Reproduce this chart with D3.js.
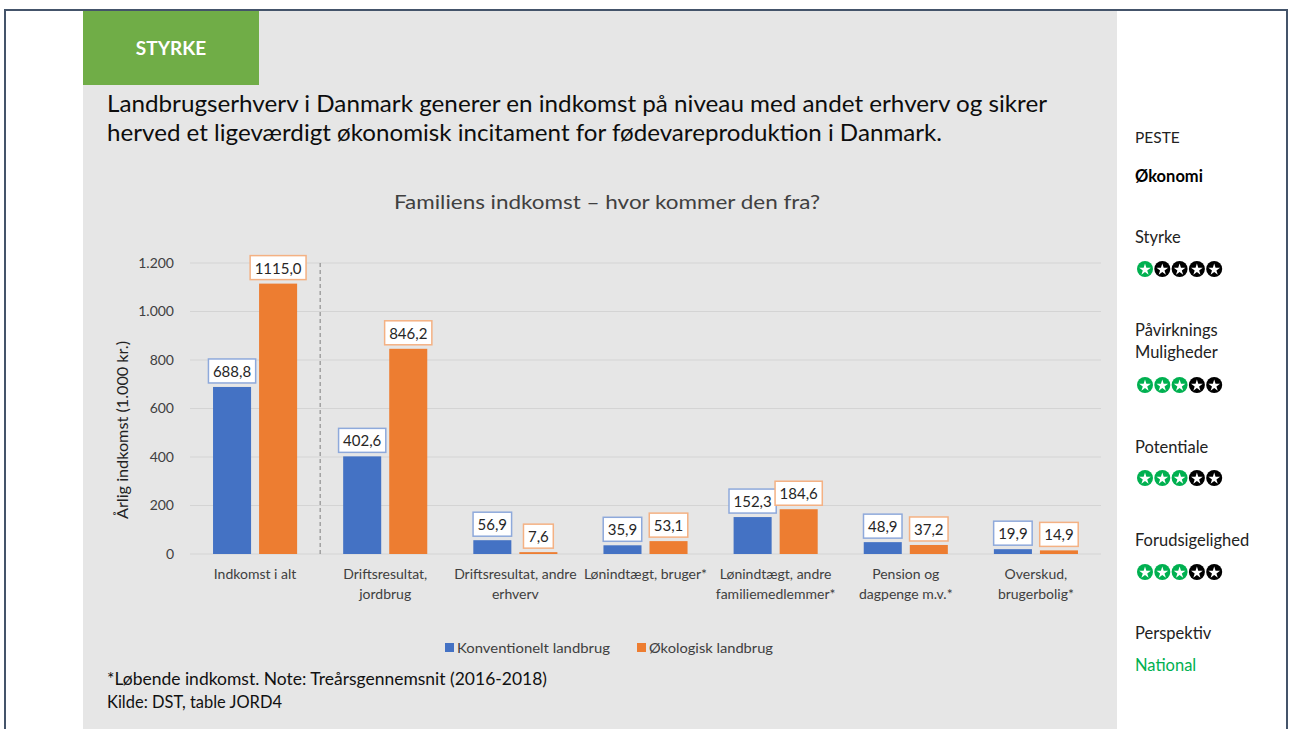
<!DOCTYPE html>
<html><head><meta charset="utf-8">
<script src="https://cdn.jsdelivr.net/npm/d3@7"></script>
<style>body{margin:0;background:#fff}svg{display:block;font-family:Lato,"Open Sans",sans-serif}</style>
</head><body><svg id="c" width="1290" height="729"></svg>
<script>
const categories = ["Indkomst i alt","Driftsresultat,\njordbrug","Driftsresultat, andre\nerhverv","Lønindtægt, bruger*","Lønindtægt, andre\nfamiliemedlemmer*","Pension og\ndagpenge m.v.*","Overskud,\nbrugerbolig*"];
const seriesNames = ["Konventionelt landbrug","Økologisk landbrug"];
const konventionelt = [688.8,402.6,56.9,35.9,152.3,48.9,19.9];
const okologisk = [1115.0,846.2,7.6,53.1,184.6,37.2,14.9];
const yTicks = [0,200,400,600,800,1000,1200];
const ratingLabels = [["Styrke"],["Påvirknings","Muligheder"],["Potentiale"],["Forudsigelighed"]];
const ratingValues = [1,3,3,3];

const svg = d3.select("#c");
const colors = ["#4472C4","#ED7D31"];
const borderColors = ["#8EA9DB","#F4B183"];
const dk = d3.formatLocale({decimal:",",thousands:".",grouping:[3],currency:["",""]});
const yFmt = dk.format(",.0f"), vFmt = v => d3.format(".1f")(v).replace(".",",");

// frame
svg.append("rect").attr("x",5).attr("y",10).attr("width",1282).attr("height",740).attr("fill","#fff").attr("stroke","#44546A").attr("stroke-width",2);
svg.append("rect").attr("x",83).attr("y",11).attr("width",1034).attr("height",720).attr("fill","#E6E6E6");
svg.append("rect").attr("x",83).attr("y",11).attr("width",176).attr("height",74).attr("fill","#70AD47");
svg.append("text").attr("x",171).attr("y",55).attr("text-anchor","middle").attr("fill","#fff").attr("font-size",19).attr("font-weight",700).text("STYRKE");

const title = ["Landbrugserhverv i Danmark generer en indkomst på niveau med andet erhverv og sikrer","herved et ligeværdigt økonomisk incitament for fødevareproduktion i Danmark."];
const tw=[940,835];
title.forEach((t,i)=>svg.append("text").attr("x",107).attr("y",112+i*29).attr("font-size",24).attr("fill","#0d0d0d")
  .attr("textLength",tw[i]).attr("lengthAdjust","spacingAndGlyphs").text(t));

svg.append("text").attr("x",607).attr("y",209).attr("text-anchor","middle").attr("font-size",19.5).attr("fill","#404040")
  .attr("textLength",426).attr("lengthAdjust","spacingAndGlyphs").text("Familiens indkomst – hvor kommer den fra?");

// scales
const x = d3.scaleBand().domain(categories).range([190,1101]).padding(0);
const xs = d3.scaleBand().domain([0,1]).range([0,x.bandwidth()]).paddingInner(0.174).paddingOuter(0.5);
const y = d3.scaleLinear().domain([0,1200]).range([554,263]);

// grid
const g = svg.append("g");
g.selectAll("line.grid").data(yTicks).join("line").attr("x1",190).attr("x2",1101)
  .attr("y1",d=>y(d)).attr("y2",d=>y(d)).attr("stroke","#D4D4D4").attr("stroke-width",1);
const yAxis = d3.axisLeft(y).tickValues(yTicks).tickFormat(yFmt).tickSize(0).tickPadding(0);
const ya = svg.append("g").attr("transform","translate(174,0)").call(yAxis);
ya.select(".domain").remove();
ya.selectAll("text").attr("font-size",14).attr("fill","#404040").attr("font-family","Lato,sans-serif");

// dashed separator
svg.append("line").attr("x1",x(categories[1])).attr("x2",x(categories[1])).attr("y1",y(1200)).attr("y2",y(0))
  .attr("stroke","#7F7F7F").attr("stroke-dasharray","4,3");

// y title
svg.append("text").attr("transform","translate(128,430) rotate(-90)").attr("text-anchor","middle").attr("font-size",16)
  .attr("fill","#222").attr("textLength",178).attr("lengthAdjust","spacingAndGlyphs").text("Årlig indkomst (1.000 kr.)");

// bars
const series=[konventionelt,okologisk];
series.forEach((vals,s)=>{
  const bg = svg.append("g");
  bg.selectAll("rect").data(vals).join("rect")
    .attr("x",(d,i)=>x(categories[i])+xs(s)).attr("width",xs.bandwidth())
    .attr("y",d=>y(d)).attr("height",d=>y(0)-y(d)).attr("fill",colors[s]);
  vals.forEach((v,i)=>{
    const cx = x(categories[i])+xs(s)+xs.bandwidth()/2;
    const lg = svg.append("g");
    const r = lg.append("rect");
    const t = lg.append("text").attr("x",cx).attr("y",y(v)-10).attr("text-anchor","middle").attr("font-size",15)
      .attr("fill","#262626").text(vFmt(v));
    const w = t.node().getComputedTextLength()+9;
    r.attr("x",cx-w/2).attr("y",y(v)-28).attr("width",w).attr("height",24).attr("fill","#fff")
      .attr("stroke",borderColors[s]).attr("stroke-width",1.5);
  });
});

// x labels
categories.forEach(c=>{
  const lines=c.split("\n");
  const t=svg.append("text").attr("text-anchor","middle").attr("font-size",14).attr("fill","#404040");
  lines.forEach((l,k)=>t.append("tspan").attr("x",x(c)+x.bandwidth()/2).attr("y",579+k*20).text(l));
});

// legend
const legX=[445,637], legW=[153,124];
seriesNames.forEach((n,s)=>{
  svg.append("rect").attr("x",legX[s]).attr("y",643).attr("width",9).attr("height",9).attr("fill",colors[s]);
  svg.append("text").attr("x",legX[s]+12).attr("y",653).attr("font-size",14).attr("fill","#404040")
    .attr("textLength",legW[s]).attr("lengthAdjust","spacingAndGlyphs").text(n);
});

// footnotes
svg.append("text").attr("x",107).attr("y",685).attr("font-size",16.5).attr("fill","#111").attr("textLength",440).attr("lengthAdjust","spacingAndGlyphs")
  .text("*Løbende indkomst. Note: Treårsgennemsnit (2016-2018)");
svg.append("text").attr("x",107).attr("y",708).attr("font-size",16.5).attr("fill","#111").attr("textLength",175).attr("lengthAdjust","spacingAndGlyphs")
  .text("Kilde: DST, table JORD4");

// right panel
const rp = svg.append("g").attr("font-size",16.5).attr("fill","#222");
rp.append("text").attr("x",1135).attr("y",143).attr("font-size",15.5).text("PESTE");
rp.append("text").attr("x",1135).attr("y",182).attr("font-weight",700).attr("fill","#000").text("Økonomi");
const labY=[[243],[336,358],[453],[546]], starY=[269,385,478,572];
ratingLabels.forEach((ls,i)=>{
  ls.forEach((l,k)=>rp.append("text").attr("x",1135).attr("y",labY[i][k]).text(l));
  const sg = svg.append("g");
  d3.range(5).forEach(j=>{
    const cx=1145+j*17.3, cy=starY[i];
    sg.append("circle").attr("cx",cx).attr("cy",cy).attr("r",8).attr("fill",j<ratingValues[i]?"#00B050":"#000");
    sg.append("path").attr("d",d3.symbol(d3.symbolStar,42)()).attr("transform",`translate(${cx},${cy+0.7})`).attr("fill","#fff");
  });
});
rp.append("text").attr("x",1135).attr("y",639).text("Perspektiv");
rp.append("text").attr("x",1135).attr("y",671).attr("fill","#00B050").text("National");
</script></body></html>
